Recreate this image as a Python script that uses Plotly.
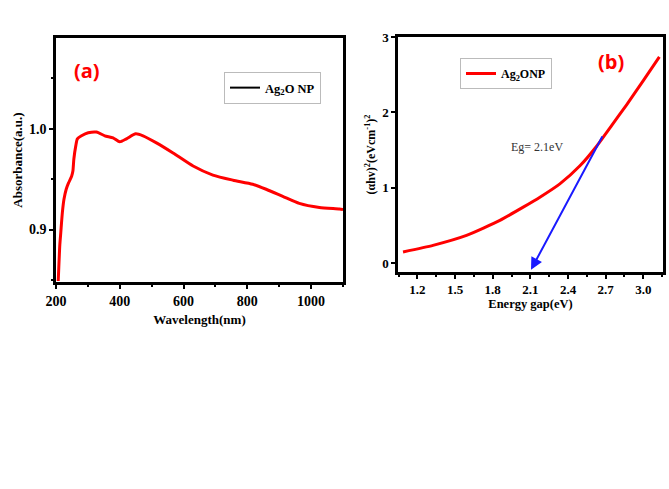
import plotly.graph_objects as go

# Panel (a): UV-Vis absorbance
wavelength = [207, 212, 215, 220, 225, 232, 239, 249, 253, 256, 262, 267, 280, 301, 327, 353, 379, 400,
              421, 450, 473, 515, 567, 630, 692, 755, 817, 859, 911, 963, 1026, 1089, 1100]
absorbance = [0.849, 0.885, 0.897, 0.917, 0.930, 0.940, 0.946, 0.953, 0.958, 0.970, 0.983, 0.990, 0.993, 0.996,
              0.9967, 0.993, 0.991, 0.987, 0.990, 0.995, 0.993, 0.986, 0.976, 0.963, 0.954, 0.949, 0.945,
              0.940, 0.933, 0.926, 0.922, 0.9205, 0.920]

# Panel (b): Tauc plot
energy = [1.085, 1.324, 1.591, 1.857, 2.043, 2.176, 2.335, 2.495, 2.628, 2.75, 2.867, 3.0, 3.128]
tauc = [0.146, 0.234, 0.366, 0.565, 0.741, 0.873, 1.05, 1.29, 1.55, 1.83, 2.10, 2.42, 2.735]

# Tangent arrow (start -> end) and band-gap label
arrow_start = (2.68, 1.70)
arrow_end = (2.105, -0.09)
eg_label = "Eg= 2.1eV"
eg_pos = (2.15, 1.54)

xa_ticks = [200, 400, 600, 800, 1000]
ya_ticks = [0.9, 1.0]
xb_ticks = [1.2, 1.5, 1.8, 2.1, 2.4, 2.7, 3.0]
yb_ticks = [0, 1, 2, 3]

serif = "Liberation Serif"


def axis(**kw):
    base = dict(showline=True, linecolor="black", linewidth=2.5, mirror=True, ticks="outside",
                ticklen=4, tickwidth=2, tickcolor="black", showgrid=False, zeroline=False,
                automargin=False)
    base.update(kw)
    return base


fig = go.Figure()
fig.add_trace(go.Scatter(x=wavelength, y=absorbance, mode="lines",
                         line=dict(color="#ff0000", width=3, shape="spline", smoothing=0.6),
                         name="<b>Ag<sub>2</sub>O NP</b>", xaxis="x", yaxis="y",
                         legend="legend", showlegend=False))
# legend entry drawn in black, as in the original
fig.add_trace(go.Scatter(x=[None], y=[None], mode="lines", line=dict(color="black", width=2),
                         name="<b>Ag<sub>2</sub>O NP</b>", xaxis="x", yaxis="y", legend="legend"))
fig.add_trace(go.Scatter(x=energy, y=tauc, mode="lines",
                         line=dict(color="#ff0000", width=3, shape="spline", smoothing=0.5),
                         name="<b>Ag<sub>2</sub>ONP</b>", xaxis="x2", yaxis="y2", legend="legend2"))

fig.update_layout(
    width=669, height=489, margin=dict(l=0, r=0, t=0, b=0),
    paper_bgcolor="white", plot_bgcolor="white",
    xaxis=axis(domain=[56/669, 343/669], range=[200, 1100], tickvals=xa_ticks,
               tickfont=dict(family=serif, size=14, color="black", weight="bold"),
               minor=dict(dtick=100, ticks="outside", ticklen=2, tickwidth=1.5, tickcolor="black"),
               title=dict(text="<b>Wavelength(nm)</b>", font=dict(family=serif, size=13, color="black"),
                          standoff=8),
               anchor="y"),
    yaxis=axis(domain=[1-282/489, 1-38/489], range=[0.848, 1.09], tickvals=ya_ticks, tickformat=".1f",
               tickfont=dict(family=serif, size=14, color="black", weight="bold"),
               minor=dict(dtick=0.05, ticks="outside", ticklen=2, tickwidth=1.5, tickcolor="black"),
               title=dict(text="<b>Absorbance(a.u.)</b>", font=dict(family=serif, size=13, color="black"),
                          standoff=4),
               anchor="x"),
    xaxis2=axis(domain=[398/669, 663/669], range=[1.045, 3.157], tickvals=xb_ticks, tickformat=".1f",
                tickfont=dict(family=serif, size=13, color="black", weight="bold"),
                minor=dict(dtick=0.15, ticks="outside", ticklen=2, tickwidth=1.5, tickcolor="black"),
                title=dict(text="<b>Energy gap(eV)</b>", font=dict(family=serif, size=12.5, color="black"),
                           standoff=3),
                anchor="y2"),
    yaxis2=axis(domain=[1-272/489, 1-37/489], range=[-0.12, 3.0], tickvals=yb_ticks,
                tickfont=dict(family=serif, size=13, color="black", weight="bold"),
                title=dict(text="<b>(αhv)<sup>2</sup>(eVcm<sup>-1</sup>)<sup>2</sup></b>",
                           font=dict(family=serif, size=12, color="black"), standoff=4),
                anchor="x2"),
    legend=dict(x=224/669, y=1-72/489, xanchor="left", yanchor="top", bgcolor="white",
                bordercolor="#bbbbbb", borderwidth=1, font=dict(family=serif, size=12.5, color="black"),
                itemwidth=30, tracegroupgap=0),
    legend2=dict(x=460/669, y=1-58/489, xanchor="left", yanchor="top", bgcolor="white",
                 bordercolor="#bbbbbb", borderwidth=1, font=dict(family=serif, size=12, color="black"),
                 itemwidth=30, tracegroupgap=0),
    annotations=[
        dict(text="<b>(a)</b>", x=72/669, y=1-70/489, xref="paper", yref="paper", xanchor="left",
             yanchor="middle", showarrow=False, font=dict(family="Open Sans", size=20, color="#ff0000")),
        dict(text="<b>(b)</b>", x=596/669, y=1-62/489, xref="paper", yref="paper", xanchor="left",
             yanchor="middle", showarrow=False, font=dict(family="Open Sans", size=20, color="#ff0000")),
        dict(text=eg_label, x=eg_pos[0], y=eg_pos[1], xref="x2", yref="y2", showarrow=False,
             font=dict(family=serif, size=12, color="#333333")),
        dict(x=arrow_end[0], y=arrow_end[1], ax=arrow_start[0], ay=arrow_start[1],
             xref="x2", yref="y2", axref="x2", ayref="y2", showarrow=True, text="",
             arrowhead=2, arrowsize=1.2, arrowwidth=2, arrowcolor="#1a1aff"),
    ],
)

fig.write_html("out.html", config={"displayModeBar": False},
               post_script="document.body.style.margin='0';document.body.style.overflow='hidden';")
